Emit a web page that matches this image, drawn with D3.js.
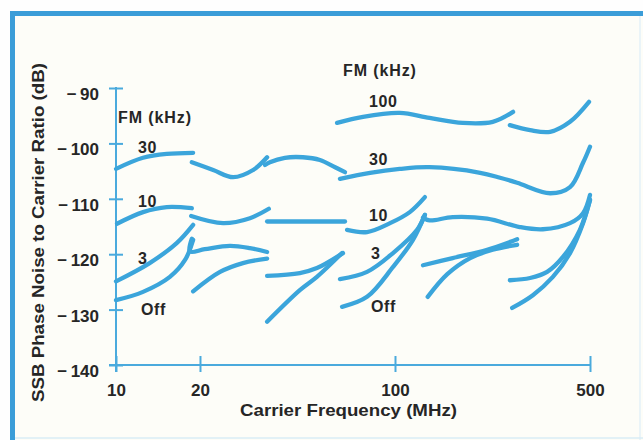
<!DOCTYPE html>
<html><head><meta charset="utf-8">
<script src="https://cdn.jsdelivr.net/npm/d3@7/dist/d3.min.js"></script>
<style>
html,body{margin:0;padding:0;background:#fefefe;}
svg{display:block;}
text{font-family:"Liberation Sans",Arial,Helvetica,sans-serif;font-weight:bold;fill:#262626;}
</style></head>
<body>
<script>
// ---- data (MHz, dB) ----
const xTicks = [10, 20, 100, 500];
const yTicks = [-90, -100, -110, -120, -130, -140];
const xTitle = "Carrier Frequency (MHz)";
const yTitle = "SSB Phase Noise to Carrier Ratio (dB)";

const fm100 = [
  [[62.0,-96.3],[76.8,-95.2],[104,-94.5],[133,-95.4],[175,-96.3],[224,-96.1],[265,-94.3]],
  [[258,-96.7],[305,-97.6],[360,-97.9],[424,-96.1],[496,-92.5]]
];
const fm30 = [
  [[10,-104.6],[12.5,-102.6],[15.2,-101.9],[18.9,-101.7]],
  [[18.7,-103.4],[22.3,-104.8],[26.3,-106.1],[31.0,-104.8],[34.8,-102.5]],
  [[34.2,-103.9],[35.6,-103.4],[40.3,-102.6],[46.8,-102.5],[53.8,-103.0],[61.0,-104.3],[66.2,-105.2]],
  [[63.5,-106.4],[81.4,-105.3],[104,-104.6],[133,-104.3],[202,-105.3],[238,-106.2],[274,-107.1],[360,-109.0],[424,-107.9],[472,-103.5],[500,-100.6]]
];
const fm10 = [
  [[10.08,-114.5],[12.5,-112.4],[15.2,-111.5],[18.7,-111.7]],
  [[18.6,-113.1],[24.2,-114.4],[30.2,-113.5],[35.3,-111.8]],
  [[34.8,-114.1],[66.2,-114.1]],
  [[67.3,-115.6],[79.4,-116.0],[96.0,-114.4],[113,-112.4],[128,-109.7]],
  [[126,-113.4],[133,-113.9],[161,-113.3],[214,-113.6],[280,-115.1],[339,-115.5],[424,-114.4],[472,-112.6],[500,-109.3]]
];
const fm3 = [
  [[10,-124.9],[13.2,-121.6],[16.5,-118.0],[18.9,-114.7]],
  [[18.7,-117.2],[18.4,-119.5],[20.8,-119.1],[25.6,-118.5],[30.2,-118.9],[34.8,-119.6]],
  [[34.8,-123.9],[45.6,-123.4],[52.5,-122.5],[65.1,-119.8]],
  [[63.5,-124.5],[79.4,-123.2],[98.4,-119.8],[120,-115.6],[128,-112.9]],
  [[126,-122.0],[161,-120.7],[214,-119.2],[274,-117.3]],
  [[258,-124.7],[305,-124.3],[351,-123.2],[400,-120.5],[460,-115.6],[500,-110.2]]
];
const fmOff = [
  [[10,-128.3],[12.5,-126.8],[15.6,-124.1],[17.7,-121.0],[18.9,-117.4]],
  [[18.9,-126.7],[23.6,-123.2],[28.5,-121.6],[34.8,-120.8]],
  [[34.8,-132.2],[45.6,-126.5],[52.5,-124.1],[64.6,-119.8]],
  [[64.6,-129.5],[79.4,-127.7],[98.4,-122.3],[116,-117.4],[128,-112.9]],
  [[131,-127.7],[154,-123.6],[186,-120.7],[224,-119.2],[274,-118.3]],
  [[263,-129.7],[312,-127.4],[368,-124.1],[424,-119.8],[472,-114.4],[500,-110.2]]
];
// labels: text, MHz, dB (baseline)
const labels = [
  ["FM (kHz)", 10.17, -96.3],
  ["30", 12.0, -101.7],
  ["10", 12.0, -111.5],
  ["3", 12.0, -121.8],
  ["Off", 12.3, -131.0],
  ["FM (kHz)", 65.1, -87.8],
  ["100", 80.7, -93.4],
  ["30", 80.7, -103.9],
  ["10", 80.7, -114.0],
  ["3", 82.0, -120.9],
  ["Off", 82.0, -130.4]
];

// ---- drawing ----
const W = 643, H = 440;
const curveColor = "#3ba5db", axisColor = "#4aaadd", frameColor = "#3b9dd8";
const svg = d3.select("body").append("svg").attr("width", W).attr("height", H);

svg.append("rect").attr("x",0).attr("y",0).attr("width",W).attr("height",H).attr("fill","#fefefe");
svg.append("rect").attr("x",12).attr("y",13).attr("width",W-12).attr("height",H-13).attr("fill","#fdfdf8");
// frame
svg.append("line").attr("x1",10).attr("x2",W).attr("y1",13.5).attr("y2",13.5).attr("stroke",frameColor).attr("stroke-width",5);
svg.append("line").attr("x1",12.5).attr("x2",12.5).attr("y1",11).attr("y2",H).attr("stroke",frameColor).attr("stroke-width",5);
svg.append("line").attr("x1",640).attr("x2",640).attr("y1",16).attr("y2",H).attr("stroke","#e3f1f8").attr("stroke-width",1.5);
svg.append("line").attr("x1",15).attr("x2",W).attr("y1",438).attr("y2",438).attr("stroke","#d8ecf6").attr("stroke-width",1.5);

const x = d3.scaleLog().domain([10, 500]).range([116, 590]);
const y = d3.scaleLinear().domain([-140, -90]).range([365, 88]);

// axes
const yAx = svg.append("g").attr("transform", `translate(${x(10)},0)`)
  .call(d3.axisLeft(y).tickValues(yTicks).tickSize(7).tickPadding(0)
        .tickFormat(d => "\u2212\u2009" + Math.abs(d)));
yAx.select(".domain").remove();
yAx.selectAll(".tick line").attr("x1",-7).attr("x2",7).attr("stroke",axisColor).attr("stroke-width",2);
yAx.selectAll(".tick text").attr("x",-17).attr("dy","0.68em").attr("font-size",17)
  .attr("text-anchor","end").style("font-family","'Liberation Sans',Arial,sans-serif").style("font-weight","bold").attr("fill","#262626");

const xAx = svg.append("g").attr("transform", `translate(0,${y(-140)})`)
  .call(d3.axisBottom(x).tickValues(xTicks).tickSize(8).tickPadding(0).tickFormat(d3.format("d")));
xAx.select(".domain").remove();
xAx.selectAll(".tick line").attr("y1",-9).attr("y2",7).attr("stroke",axisColor).attr("stroke-width",2);
xAx.selectAll(".tick text").attr("y",31).attr("dy",0).attr("font-size",17)
  .style("font-family","'Liberation Sans',Arial,sans-serif").style("font-weight","bold").attr("fill","#262626");

svg.append("line").attr("x1",x(10)).attr("x2",x(10)).attr("y1",y(-90)-1).attr("y2",y(-140)+7)
  .attr("stroke",axisColor).attr("stroke-width",2);
svg.append("line").attr("x1",x(10)-7).attr("x2",x(500)).attr("y1",y(-140)).attr("y2",y(-140))
  .attr("stroke",axisColor).attr("stroke-width",2);

// titles
svg.append("text").attr("x",348.5).attr("y",416).attr("text-anchor","middle")
  .attr("font-size",17).attr("textLength",217).attr("lengthAdjust","spacingAndGlyphs").text(xTitle);
svg.append("text").attr("transform","translate(44,232.5) rotate(-90)").attr("text-anchor","middle")
  .attr("font-size",17).attr("textLength",339).attr("lengthAdjust","spacingAndGlyphs").text(yTitle);

// curves
const line = d3.line().x(d => x(d[0])).y(d => y(d[1])).curve(d3.curveCatmullRom.alpha(0.5));
const allSeries = [fm100, fm30, fm10, fm3, fmOff];
allSeries.forEach(series => {
  svg.append("g").selectAll("path").data(series).join("path")
    .attr("d", line).attr("fill","none").attr("stroke",curveColor)
    .attr("stroke-width",4.3).attr("stroke-linecap","round").attr("stroke-linejoin","round");
});

// labels
svg.append("g").selectAll("text").data(labels).join("text")
  .attr("x", d => x(d[1])).attr("y", d => y(d[2]))
  .attr("font-size", 16)
  .attr("letter-spacing", d => d[0].startsWith("FM") ? 0.9 : 0.6)
  .text(d => d[0]);
</script>
</body></html>
